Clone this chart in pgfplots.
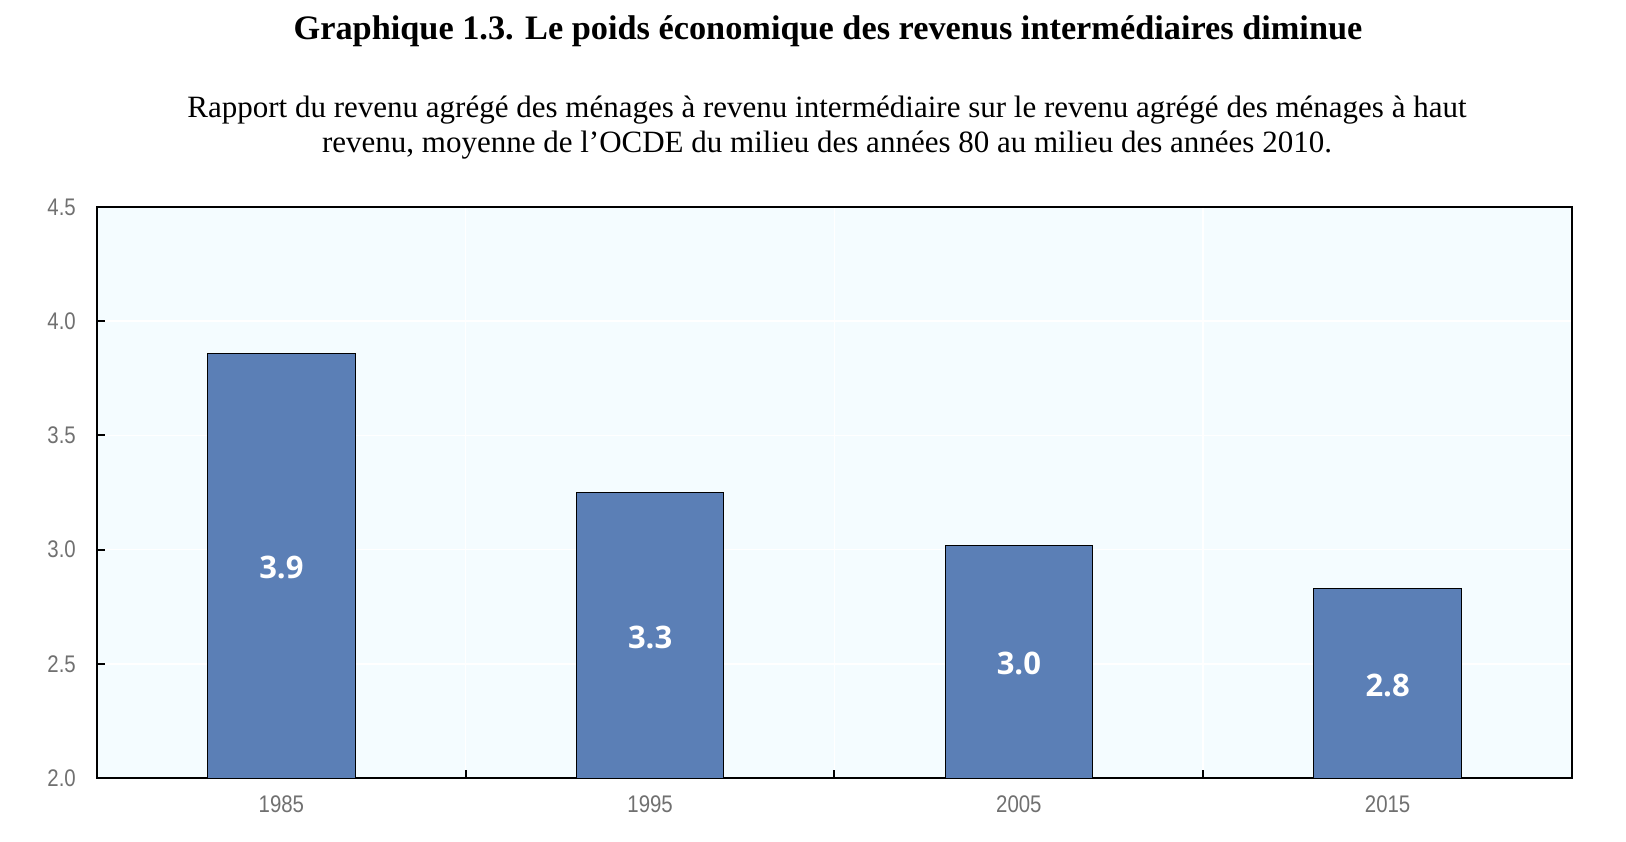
\documentclass[border=0pt]{standalone}
\usepackage{fontspec}
\usepackage{pgfplots}
\pgfplotsset{compat=1.18}
\setmainfont{Liberation Serif}
\newfontfamily\tickfont[FakeStretch=0.85]{Liberation Sans}
\newfontfamily\barfont{Open Sans}
\definecolor{bg}{RGB}{244,252,255}
\definecolor{barblue}{RGB}{91,127,182}
\definecolor{tickgray}{RGB}{112,112,112}
\begin{document}
\begin{tikzpicture}[x=1pt,y=1pt]
\useasboundingbox (0,0) rectangle (1626,842);
\node[anchor=base, inner sep=0pt, font=\fontsize{34.3}{38}\selectfont\bfseries] at (828,802) {Graphique 1.3. Le poids économique des revenus intermédiaires diminue};
\node[anchor=base, inner sep=0pt, font=\fontsize{31}{35}\selectfont] at (827,724) {Rapport du revenu agrégé des ménages à revenu intermédiaire sur le revenu agrégé des ménages à haut};
\node[anchor=base, inner sep=0pt, font=\fontsize{31}{35}\selectfont] at (827,689) {revenu, moyenne de l’OCDE du milieu des années 80 au milieu des années 2010.};
\begin{axis}[
  at={(97pt,64pt)}, anchor=south west,
  scale only axis, width=1475pt, height=571pt,
  xmin=-0.5, xmax=3.5, ymin=2, ymax=4.5,
  ytick={2,2.5,3,3.5,4,4.5},
  yticklabel style={/pgf/number format/fixed, /pgf/number format/fixed zerofill, /pgf/number format/precision=1, anchor=east, inner sep=0pt, xshift=-21pt},
  xtick={0.5,1.5,2.5}, xticklabels={},
  extra x ticks={0,1,2,3},
  extra x tick labels={1985,1995,2005,2015},
  extra x tick style={major tick length=0pt, xmajorgrids=false},
  xticklabel style={anchor=north, inner sep=0pt, yshift=-18pt},
  axis background/.style={fill=bg},
  xmajorgrids, ymajorgrids,
  major grid style={white, line width=1.5pt},
  axis line style={line width=2pt, black},
  tick align=inside, tick pos=left,
  major tick length=8pt,
  tick style={black, line width=2pt},
  ticklabel style={font=\fontsize{24}{28}\selectfont\tickfont, text=tickgray},
  /pgf/number format/assume math mode=true,
]
\addplot[ybar, bar width=0.4, fill=barblue, draw=black, line width=0.8pt]
  coordinates {(0,3.86) (1,3.25) (2,3.02) (3,2.83)};
\addplot[draw=none, mark=none, nodes near coords, point meta=explicit symbolic,
  nodes near coords align=center,
  every node near coord/.append style={font=\fontsize{31}{35}\selectfont\barfont\bfseries, text=white, anchor=center, inner sep=0pt}]
  coordinates {(0,2.92) [3.9] (1,2.615) [3.3] (2,2.50) [3.0] (3,2.405) [2.8]};
\end{axis}
\end{tikzpicture}
\end{document}
